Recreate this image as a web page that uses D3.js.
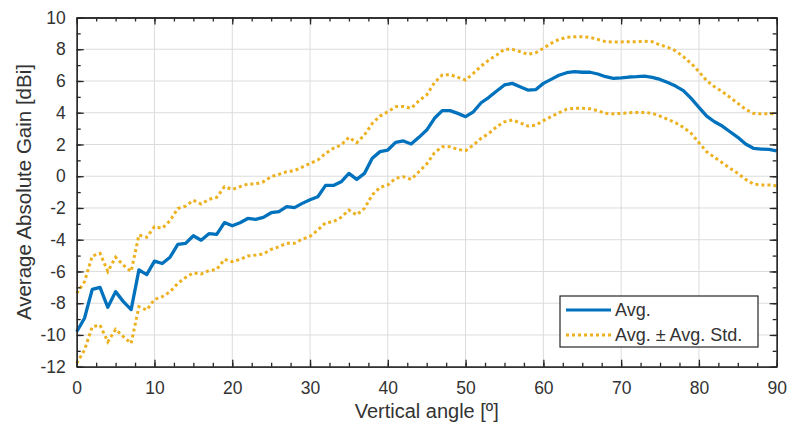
<!DOCTYPE html>
<html>
<head>
<meta charset="utf-8">
<script src="https://cdn.jsdelivr.net/npm/d3@7"></script>
<style>
  body { margin: 0; background: #fff; }
  text { font-family: "Liberation Sans", Arial, sans-serif; fill: #333; }
</style>
</head>
<body>
<div id="chart"></div>
<script>
// angles 0..90 deg, one per degree
var angles = d3.range(0, 91);

var avgGain = [
  -9.8, -8.95, -7.13, -7.0, -8.26, -7.27, -7.9, -8.4, -5.9, -6.2,
  -5.35, -5.5, -5.1, -4.3, -4.23, -3.75, -4.03, -3.62, -3.66, -2.92,
  -3.12, -2.93, -2.66, -2.72, -2.59, -2.3, -2.23, -1.92, -1.98, -1.71,
  -1.48, -1.29, -0.58, -0.58, -0.35, 0.18, -0.2, 0.18, 1.13, 1.55,
  1.65, 2.13, 2.22, 2.03, 2.45, 2.91, 3.65, 4.13, 4.13, 3.96,
  3.75, 4.06, 4.63, 4.97, 5.37, 5.75, 5.85, 5.64, 5.43, 5.45,
  5.85, 6.1, 6.36, 6.52, 6.59, 6.55, 6.55, 6.44, 6.27, 6.17,
  6.2, 6.25, 6.27, 6.31, 6.23, 6.1, 5.9, 5.68, 5.39, 4.9,
  4.34, 3.79, 3.43, 3.16, 2.8, 2.45, 2.03, 1.76, 1.71, 1.69, 1.6
];

var upperStd = [
  -7.38, -6.65, -5.03, -4.86, -6.0, -5.1, -5.6, -6.0, -3.7, -3.85,
  -3.18, -3.28, -2.8, -2.03, -1.88, -1.52, -1.75, -1.46, -1.33, -0.66,
  -0.83, -0.66, -0.49, -0.49, -0.35, -0.03, 0.12, 0.28, 0.35, 0.58,
  0.81, 1.02, 1.44, 1.76, 1.97, 2.45, 2.11, 2.6, 3.33, 3.79,
  4.06, 4.38, 4.4, 4.28, 4.75, 5.12, 5.9, 6.38, 6.4, 6.23,
  6.06, 6.48, 6.94, 7.32, 7.64, 8.0, 8.0, 7.85, 7.68, 7.78,
  8.06, 8.37, 8.62, 8.75, 8.78, 8.78, 8.75, 8.62, 8.48, 8.45,
  8.46, 8.48, 8.48, 8.5, 8.48, 8.27, 8.12, 7.9, 7.53, 7.11,
  6.59, 6.02, 5.64, 5.33, 4.97, 4.59, 4.22, 3.96, 3.93, 3.93, 3.93
];

var lowerStd = [
  -11.79, -10.95, -9.48, -9.38, -10.43, -9.65, -10.11, -10.53, -8.22, -8.43,
  -7.76, -7.59, -7.28, -6.75, -6.38, -6.08, -6.16, -5.95, -5.87, -5.24,
  -5.39, -5.24, -5.03, -4.97, -4.9, -4.61, -4.44, -4.23, -4.23, -3.96,
  -3.79, -3.39, -2.93, -2.87, -2.59, -2.13, -2.44, -2.02, -1.18, -0.7,
  -0.55, -0.13, -0.03, -0.2, 0.28, 0.77, 1.48, 1.86, 1.86, 1.69,
  1.61, 1.97, 2.39, 2.7, 3.12, 3.43, 3.54, 3.37, 3.16, 3.21,
  3.5, 3.75, 4.0, 4.22, 4.28, 4.28, 4.25, 4.13, 3.96, 3.93,
  3.96, 4.0, 4.02, 4.02, 3.96, 3.79, 3.58, 3.37, 3.08, 2.7,
  2.11, 1.54, 1.19, 0.85, 0.5, 0.18, -0.2, -0.49, -0.55, -0.55, -0.6
];

var xTicks = [0, 10, 20, 30, 40, 50, 60, 70, 80, 90];
var yTicks = [-12, -10, -8, -6, -4, -2, 0, 2, 4, 6, 8, 10];
var legendLabels = ["Avg.", "Avg. \u00B1 Avg. Std."];

var W = 787, H = 427;
var m = { left: 76.7, right: 10.3, top: 17.5, bottom: 60.3 };
var iw = W - m.left - m.right;
var ih = H - m.top - m.bottom;

var blue = "#0072BD", gold = "#EDB120", axisCol = "#262626", textCol = "#333";

var svg = d3.select("#chart").append("svg")
  .attr("width", W).attr("height", H);

var g = svg.append("g").attr("transform", `translate(${m.left},${m.top})`);

var x = d3.scaleLinear().domain([0, 90]).range([0, iw]);
var y = d3.scaleLinear().domain([-12, 10]).range([ih, 0]);

// grid
g.append("g").selectAll("line").data(xTicks.slice(1, -1)).enter().append("line")
  .attr("x1", d => x(d)).attr("x2", d => x(d))
  .attr("y1", 0).attr("y2", ih)
  .attr("stroke", "#dcdcdc").attr("stroke-width", 1);
g.append("g").selectAll("line").data(yTicks.slice(1, -1)).enter().append("line")
  .attr("y1", d => y(d)).attr("y2", d => y(d))
  .attr("x1", 0).attr("x2", iw)
  .attr("stroke", "#dcdcdc").attr("stroke-width", 1);

// lines
var line = d3.line().x((d, i) => x(angles[i])).y(d => y(d));

[upperStd, lowerStd].forEach(function (s) {
  g.append("path").datum(s)
    .attr("d", line)
    .attr("fill", "none")
    .attr("stroke", gold)
    .attr("stroke-width", 3)
    .attr("stroke-dasharray", "3,3");
});

g.append("path").datum(avgGain)
  .attr("d", line)
  .attr("fill", "none")
  .attr("stroke", blue)
  .attr("stroke-width", 3.3)
  .attr("stroke-linejoin", "round");

// axes (ticks inward, box on all sides)
var xMinor = d3.range(0, 90.1, 2.5);
var yMinor = d3.range(-12, 10.1, 1);
var plain = d => String(d); // hyphen minus like the original

g.append("g").attr("transform", `translate(0,${ih})`)
  .call(d3.axisBottom(x).tickValues(xTicks).tickSize(-7).tickSizeOuter(0).tickPadding(15).tickFormat(plain));
g.append("g").attr("transform", `translate(0,${ih})`)
  .call(d3.axisBottom(x).tickValues(xMinor).tickSize(-4).tickSizeOuter(0).tickFormat(""));
g.append("g")
  .call(d3.axisTop(x).tickValues(xTicks).tickSize(-7).tickSizeOuter(0).tickFormat(""));
g.append("g")
  .call(d3.axisTop(x).tickValues(xMinor).tickSize(-4).tickSizeOuter(0).tickFormat(""));
g.append("g")
  .call(d3.axisLeft(y).tickValues(yTicks).tickSize(-7).tickSizeOuter(0).tickPadding(11).tickFormat(plain));
g.append("g")
  .call(d3.axisLeft(y).tickValues(yMinor).tickSize(-4).tickSizeOuter(0).tickFormat(""));
g.append("g").attr("transform", `translate(${iw},0)`)
  .call(d3.axisRight(y).tickValues(yTicks).tickSize(-7).tickSizeOuter(0).tickFormat(""));
g.append("g").attr("transform", `translate(${iw},0)`)
  .call(d3.axisRight(y).tickValues(yMinor).tickSize(-4).tickSizeOuter(0).tickFormat(""));

g.selectAll(".domain").attr("stroke", axisCol).attr("stroke-width", 1.3);
g.selectAll(".tick line").attr("stroke", axisCol).attr("stroke-width", 1.3);
g.selectAll(".tick text")
  .style("font-family", '"Liberation Sans", Arial, sans-serif')
  .style("font-size", "17.5px")
  .attr("fill", textCol);

// axis titles
svg.append("text")
  .attr("x", m.left + iw / 2).attr("y", 418)
  .attr("text-anchor", "middle")
  .style("font-size", "20px")
  .text("Vertical angle [\u00BA]");

svg.append("text")
  .attr("transform", `translate(31,${m.top + ih / 2}) rotate(-90)`)
  .attr("text-anchor", "middle")
  .style("font-size", "20.5px")
  .text("Average Absolute Gain [dBi]");

// legend
var lg = svg.append("g").attr("transform", "translate(560,296)");
lg.append("rect")
  .attr("width", 198).attr("height", 51)
  .attr("fill", "#fff").attr("stroke", axisCol).attr("stroke-width", 1.2);

var legendStyles = [
  { color: blue, dash: null },
  { color: gold, dash: "3,3" }
];
legendLabels.forEach(function (lab, i) {
  var yy = 14 + i * 25;
  lg.append("line")
    .attr("x1", 6).attr("x2", 51)
    .attr("y1", yy).attr("y2", yy)
    .attr("stroke", legendStyles[i].color)
    .attr("stroke-width", 3)
    .attr("stroke-dasharray", legendStyles[i].dash);
  lg.append("text")
    .attr("x", 55).attr("y", yy + 6)
    .style("font-size", "18px")
    .text(lab);
});
</script>
</body>
</html>
